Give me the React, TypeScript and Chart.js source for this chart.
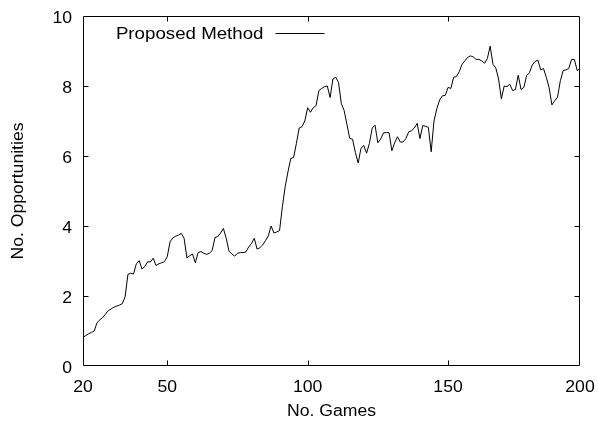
import React, { useEffect, useRef } from "react";
import { Chart, registerables } from "chart.js";

Chart.register(...registerables);

const GAMES_START = 20;
const OPPORTUNITIES = [
  0.82, 0.87, 0.92, 0.96, 1.0, 1.24, 1.32, 1.38, 1.48, 1.58,
  1.63, 1.68, 1.71, 1.74, 1.78, 1.98, 2.62, 2.65, 2.63, 2.92,
  3.01, 2.77, 2.84, 2.98, 2.97, 3.08, 2.87, 2.92, 2.95, 2.98,
  3.12, 3.55, 3.66, 3.71, 3.74, 3.79, 3.65, 3.09, 3.15, 3.2,
  2.95, 3.24, 3.27, 3.22, 3.19, 3.22, 3.3, 3.67, 3.7, 3.8,
  3.93, 3.65, 3.28, 3.2, 3.14, 3.22, 3.24, 3.24, 3.26, 3.4,
  3.5, 3.65, 3.34, 3.38, 3.46, 3.58, 3.72, 4.0, 3.8, 3.83,
  3.87, 4.55, 5.12, 5.55, 5.93, 5.96, 6.36, 6.8, 6.84, 7.0,
  7.38, 7.25, 7.38, 7.44, 7.87, 7.93, 7.98, 8.0, 7.67, 8.2,
  8.25, 8.1, 7.5, 7.3, 6.9, 6.5, 6.48, 6.1, 5.8, 6.22,
  6.3, 6.08, 6.36, 6.8, 6.88, 6.38, 6.48, 6.66, 6.67, 6.67,
  6.15, 6.38, 6.55, 6.4, 6.4, 6.5, 6.69, 6.72, 6.8, 6.93,
  6.5, 6.87, 6.85, 6.82, 6.12, 7.0, 7.35, 7.6, 7.72, 7.73,
  7.96, 7.93, 8.25, 8.27, 8.41, 8.62, 8.72, 8.82, 8.86, 8.83,
  8.76, 8.76, 8.72, 8.65, 8.78, 9.14, 8.62, 8.52, 8.2, 7.63,
  8.0, 7.98, 8.05, 7.87, 7.9, 8.31, 7.9, 7.96, 8.3, 8.38,
  8.6, 8.7, 8.74, 8.46, 8.5, 8.25, 7.95, 7.46, 7.58, 7.68,
  8.15, 8.44, 8.46, 8.5, 8.76, 8.76, 8.44, 8.5,
];
const X_TICK_VALUES = [20, 50, 100, 150, 197];
const X_TICK_LABELS = ["20", "50", "100", "150", "200"];
const Y_TICK_VALUES = [0, 2, 4, 6, 8, 10];
const Y_TICK_LABELS = ["0", "2", "4", "6", "8", "10"];
const SERIES_LABEL = "Proposed Method";
const X_TITLE = "No. Games";
const Y_TITLE = "No. Opportunities";

const FONT_FAMILY = '"Liberation Sans", Arial, Helvetica, sans-serif';
const FONT_SIZE = 16;
const KEY_FONT_SIZE = 17;
const STRETCH = 1.1;

function stretchedText(
  ctx: CanvasRenderingContext2D,
  text: string,
  x: number,
  y: number,
  align: CanvasTextAlign,
  size: number,
  rotated = false
) {
  ctx.save();
  ctx.translate(x, y);
  ctx.font = `${size}px ${FONT_FAMILY}`;
  ctx.fillStyle = "#000";
  ctx.textAlign = align;
  ctx.textBaseline = "alphabetic";
  if (rotated) ctx.rotate(-Math.PI / 2);
  ctx.scale(STRETCH, 1);
  ctx.fillText(text, 0, 0);
  ctx.restore();
}

const framePlugin = {
  id: "gnuFrame",
  afterDraw(chart: any) {
    const { ctx, chartArea } = chart;
    const { left, right, top, bottom } = chartArea;
    const xs = chart.scales.x;
    const ys = chart.scales.y;
    const L = Math.round(left) + 0.5;
    const R = Math.round(right) - 0.5;
    const T = Math.round(top) + 0.5;
    const B = Math.round(bottom) - 0.5;
    const tl = 5;
    ctx.save();
    ctx.strokeStyle = "#000";
    ctx.lineWidth = 1;
    ctx.beginPath();
    ctx.rect(L, T, R - L, B - T);
    for (const v of X_TICK_VALUES) {
      const px = Math.round(xs.getPixelForValue(v)) + 0.5;
      if (px <= L + 1 || px >= R - 1) continue;
      ctx.moveTo(px, B);
      ctx.lineTo(px, B - tl);
      ctx.moveTo(px, T);
      ctx.lineTo(px, T + tl);
    }
    for (const v of Y_TICK_VALUES) {
      const py = Math.round(ys.getPixelForValue(v)) + 0.5;
      if (py <= T + 1 || py >= B - 1) continue;
      ctx.moveTo(L, py);
      ctx.lineTo(L + tl, py);
      ctx.moveTo(R, py);
      ctx.lineTo(R - tl, py);
    }
    ctx.stroke();

    // tick labels
    X_TICK_VALUES.forEach((v, i) => {
      stretchedText(ctx, X_TICK_LABELS[i], xs.getPixelForValue(v), bottom + 26, "center", FONT_SIZE);
    });
    Y_TICK_VALUES.forEach((v, i) => {
      stretchedText(ctx, Y_TICK_LABELS[i], left - 11, ys.getPixelForValue(v) + 6.5, "right", FONT_SIZE);
    });

    // axis titles
    stretchedText(ctx, X_TITLE, (left + right) / 2, bottom + 50, "center", FONT_SIZE);
    stretchedText(ctx, Y_TITLE, 23, (top + bottom) / 2, "center", FONT_SIZE, true);

    // gnuplot-style key
    const ky = Math.round(T + 16) + 0.5;
    stretchedText(ctx, SERIES_LABEL, L + 180, ky + 5.5, "right", KEY_FONT_SIZE);
    ctx.beginPath();
    ctx.moveTo(L + 192, ky);
    ctx.lineTo(L + 241, ky);
    ctx.stroke();
    ctx.restore();
  },
};

export default function App() {
  const canvasRef = useRef<HTMLCanvasElement>(null);

  useEffect(() => {
    const canvas = canvasRef.current;
    if (!canvas) return;
    const points = OPPORTUNITIES.map((v, i) => ({ x: GAMES_START + i, y: v }));
    const chart = new Chart(canvas, {
      type: "line",
      data: {
        datasets: [
          {
            label: SERIES_LABEL,
            data: points,
            borderColor: "#000",
            borderWidth: 1,
            pointRadius: 0,
            tension: 0,
            fill: false,
          },
        ],
      },
      options: {
        animation: false,
        responsive: false,
        devicePixelRatio: 1,
        layout: { padding: { left: 0, right: 18, top: 16, bottom: 0 } },
        plugins: {
          legend: { display: false },
          tooltip: { enabled: false },
        },
        scales: {
          x: {
            type: "linear",
            min: 20,
            max: 197,
            afterBuildTicks: (s: any) => {
              s.ticks = X_TICK_VALUES.map((v) => ({ value: v }));
            },
            afterFit: (s: any) => {
              s.height = 59;
              s.paddingLeft = 0;
              s.paddingRight = 0;
            },
            grid: { display: false, drawTicks: false },
            border: { display: false },
            ticks: { display: false },
            title: { display: false },
          },
          y: {
            type: "linear",
            min: 0,
            max: 10,
            afterBuildTicks: (s: any) => {
              s.ticks = Y_TICK_VALUES.map((v) => ({ value: v }));
            },
            afterFit: (s: any) => {
              s.width = 83;
              s.paddingTop = 0;
              s.paddingBottom = 0;
            },
            grid: { display: false, drawTicks: false },
            border: { display: false },
            ticks: { display: false },
            title: { display: false },
          },
        },
      },
      plugins: [framePlugin],
    } as any);
    return () => chart.destroy();
  }, []);

  return (
    <div
      style={{
        position: "fixed",
        left: 0,
        top: 0,
        width: 598,
        height: 425,
        background: "#fff",
      }}
    >
      <canvas ref={canvasRef} width={598} height={425} />
    </div>
  );
}
